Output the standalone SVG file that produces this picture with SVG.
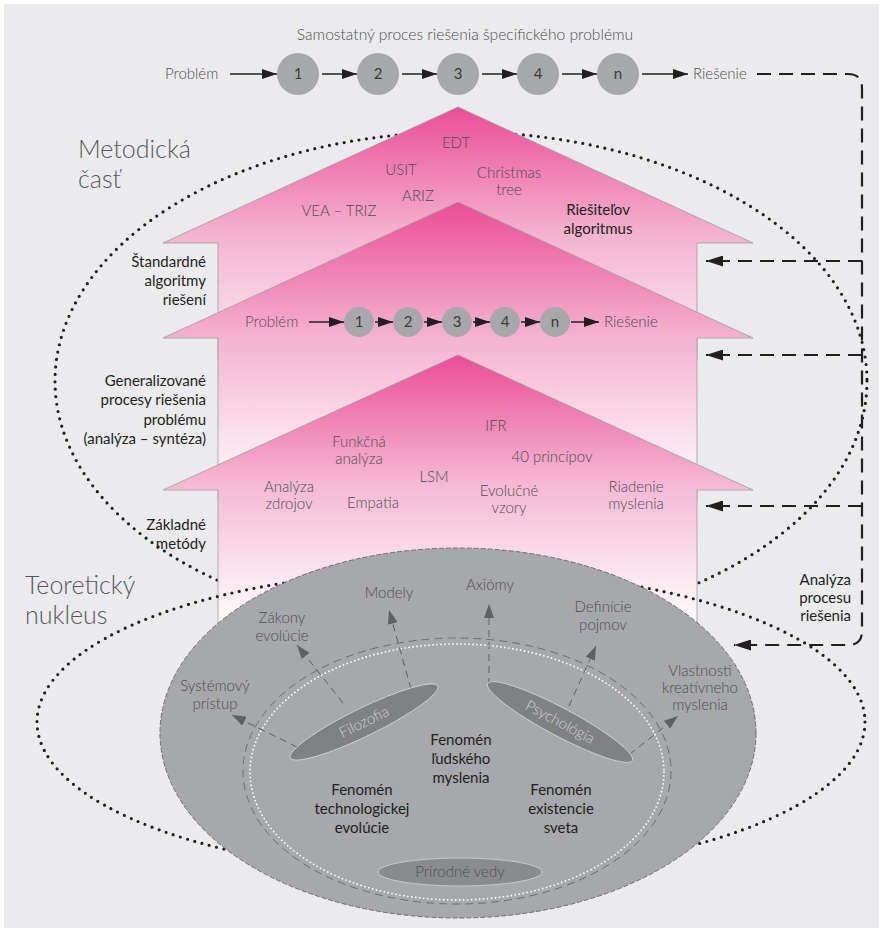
<svg xmlns="http://www.w3.org/2000/svg" width="883" height="932" viewBox="0 0 883 932">
  <defs>
    <style>
      .lbl { font-family: Lato, "Open Sans", "Liberation Sans", sans-serif; font-size: 15px; font-weight: 300; fill: #4d4e50; text-anchor: middle; }
      .blk { font-family: Lato, "Open Sans", "Liberation Sans", sans-serif; font-size: 15px; fill: #231f20; }
      .big { font-family: Lato, "Open Sans", "Liberation Sans", sans-serif; font-size: 25px; font-weight: 300; fill: #58595b; }
      .num { font-family: Lato, "Open Sans", "Liberation Sans", sans-serif; font-size: 15px; fill: #3a3a3c; text-anchor: middle; }
      .step { fill: #a7a8ab; }
      .flow { stroke: #231f20; stroke-width: 1.5; fill: none; marker-end: url(#ah); }
      .back { stroke: #231f20; stroke-width: 2.2; fill: none; stroke-dasharray: 14 8; }
      .dots { fill: none; stroke: #231f20; stroke-width: 3.2; stroke-linecap: round; stroke-dasharray: 0 7.5; }
      .house { stroke: #9d9d9f; stroke-width: 0.8; }
      .ray { stroke: #5f6063; stroke-width: 1; fill: none; stroke-dasharray: 7 5; marker-end: url(#gh); }
      .disc { fill: #808184; stroke: #d4d5d7; stroke-width: 0.8; }
      .disctxt { font-family: Lato, "Open Sans", "Liberation Sans", sans-serif; font-size: 15px; font-weight: 300; fill: #cfd0d2; text-anchor: middle; }
    </style>
    <marker id="ah" viewBox="0 0 15 10" refX="15" refY="5" markerWidth="15" markerHeight="10" markerUnits="userSpaceOnUse" orient="auto">
      <path d="M0,0 L15,5 L0,10 z" fill="#231f20"/>
    </marker>
    <marker id="bh" viewBox="0 0 17 11" refX="17" refY="5.5" markerWidth="17" markerHeight="11" markerUnits="userSpaceOnUse" orient="auto">
      <path d="M0,0 L17,5.5 L0,11 z" fill="#231f20"/>
    </marker>
    <marker id="gh" viewBox="0 0 14 10" refX="14" refY="5" markerWidth="14" markerHeight="10" markerUnits="userSpaceOnUse" orient="auto">
      <path d="M0,0 L14,5 L0,10 z" fill="#5f6063"/>
    </marker>
    <linearGradient id="gA" gradientUnits="userSpaceOnUse" x1="0" y1="107" x2="0" y2="360">
      <stop offset="0" stop-color="#eb4d97"/>
      <stop offset="0.5" stop-color="#f4b2cf"/>
      <stop offset="1" stop-color="#fcecf3"/>
    </linearGradient>
    <linearGradient id="gB" gradientUnits="userSpaceOnUse" x1="0" y1="202" x2="0" y2="470">
      <stop offset="0" stop-color="#eb4d97"/>
      <stop offset="0.5" stop-color="#f4b2cf"/>
      <stop offset="1" stop-color="#fdf1f6"/>
    </linearGradient>
    <linearGradient id="gC" gradientUnits="userSpaceOnUse" x1="0" y1="355" x2="0" y2="610">
      <stop offset="0" stop-color="#eb4d97"/>
      <stop offset="0.5" stop-color="#f5b8d3"/>
      <stop offset="1" stop-color="#fef6f9"/>
    </linearGradient>
  </defs>

  <!-- page -->
  <rect x="0" y="0" width="883" height="932" fill="#ffffff"/>
  <rect x="4" y="4" width="875" height="924" fill="#ebebed"/>

  <!-- outer dotted boundary of the methodical part (drawn under the arrows) -->
  <ellipse cx="461" cy="381" rx="406" ry="249" class="dots"/>

  <!-- three stacked arrows -->
  <g id="arrow-algoritmus">
    <path class="house" fill="url(#gA)" d="M458,107 L753,243 L697,243 L697,360 L218,360 L218,243 L163,243 Z"/>
  </g>
  <g id="arrow-procesy">
    <path class="house" fill="url(#gB)" d="M458,202 L753,338 L697,338 L697,500 L218,500 L218,338 L163,338 Z"/>
  </g>
  <g id="arrow-metody">
    <path class="house" fill="url(#gC)" d="M458,355 L753,490 L697,490 L697,650 L218,650 L218,490 L163,490 Z"/>
  </g>

  <!-- dotted boundary of the theoretical nucleus -->
  <ellipse cx="451" cy="722" rx="414" ry="152" class="dots"/>

  <!-- nucleus -->
  <g id="nucleus">
    <ellipse cx="458" cy="733" rx="298" ry="185" fill="#a7a8ab" stroke="#6d6e71" stroke-width="1" stroke-dasharray="5 2"/>
    <ellipse cx="457" cy="771" rx="214" ry="133" fill="none" stroke="#6d6e71" stroke-width="1" stroke-dasharray="8 5"/>
    <ellipse cx="457" cy="772" rx="207" ry="128" fill="none" stroke="#ffffff" stroke-width="1.8" stroke-linecap="round" stroke-dasharray="0 4"/>
  </g>

  <!-- connectors -->
  <g id="connectors">
    <!-- specific solving process -->
    <line class="flow" x1="230" y1="74" x2="277" y2="74"/>
    <line class="flow" x1="322" y1="74" x2="357" y2="74"/>
    <line class="flow" x1="402" y1="74" x2="437" y2="74"/>
    <line class="flow" x1="482" y1="74" x2="517" y2="74"/>
    <line class="flow" x1="562" y1="74" x2="597" y2="74"/>
    <line class="flow" x1="642" y1="74" x2="688" y2="74"/>
    <!-- generalized process -->
    <line class="flow" x1="309" y1="322" x2="344" y2="322"/>
    <line class="flow" x1="375" y1="322" x2="393" y2="322"/>
    <line class="flow" x1="424" y1="322" x2="442" y2="322"/>
    <line class="flow" x1="473" y1="322" x2="490" y2="322"/>
    <line class="flow" x1="521" y1="322" x2="540" y2="322"/>
    <line class="flow" x1="571" y1="322" x2="599" y2="322"/>
    <!-- analysis feedback loop -->
    <path class="back" d="M757,74 H848 Q862,74 862,88 V631 Q862,645 848,645 H734" marker-end="url(#bh)"/>
    <path class="back" d="M862,261 H706" marker-end="url(#bh)"/>
    <path class="back" d="M862,355 H706" marker-end="url(#bh)"/>
    <path class="back" d="M862,506 H706" marker-end="url(#bh)"/>
    <!-- from the disciplines outwards -->
    <line class="ray" x1="297" y1="747" x2="232" y2="715"/>
    <line class="ray" x1="343" y1="703" x2="297" y2="645"/>
    <line class="ray" x1="411" y1="689" x2="389" y2="610"/>
    <line class="ray" x1="489" y1="685" x2="489" y2="604"/>
    <line class="ray" x1="564" y1="717" x2="596" y2="646"/>
    <line class="ray" x1="620" y1="762" x2="678" y2="716"/>
  </g>

  <!-- step circles, top row -->
  <g id="steps-top">
    <circle class="step" cx="298" cy="74" r="21"/><text class="num" x="298" y="79">1</text>
    <circle class="step" cx="378" cy="74" r="21"/><text class="num" x="378" y="79">2</text>
    <circle class="step" cx="458" cy="74" r="21"/><text class="num" x="458" y="79">3</text>
    <circle class="step" cx="538" cy="74" r="21"/><text class="num" x="538" y="79">4</text>
    <circle class="step" cx="618" cy="74" r="21"/><text class="num" x="618" y="79">n</text>
  </g>
  <g id="titles-top">
    <text class="lbl" x="465" y="40" style="font-size:15.6px">Samostatný proces riešenia špecifického problému</text>
    <text class="lbl" x="165" y="79" style="text-anchor:start">Problém</text>
    <text class="lbl" x="693" y="79" style="text-anchor:start">Riešenie</text>
  </g>

  <!-- step circles, generalized row -->
  <g id="steps-mid">
    <circle class="step" cx="359" cy="322" r="15"/><text class="num" x="359" y="327">1</text>
    <circle class="step" cx="408" cy="322" r="15"/><text class="num" x="408" y="327">2</text>
    <circle class="step" cx="457" cy="322" r="15"/><text class="num" x="457" y="327">3</text>
    <circle class="step" cx="505" cy="322" r="15"/><text class="num" x="505" y="327">4</text>
    <circle class="step" cx="555" cy="322" r="15"/><text class="num" x="555" y="327">n</text>
    <text class="lbl" x="245" y="327" style="text-anchor:start">Problém</text>
    <text class="lbl" x="604" y="327" style="text-anchor:start">Riešenie</text>
  </g>

  <!-- labels in the top arrow -->
  <g id="algoritmus-labels">
    <text class="lbl" x="456" y="148">EDT</text>
    <text class="lbl" x="401" y="175">USIT</text>
    <text class="lbl" x="418" y="201">ARIZ</text>
    <text class="lbl" x="339" y="216">VEA – TRIZ</text>
    <text class="lbl" x="509" y="178">Christmas</text>
    <text class="lbl" x="509" y="195">tree</text>
    <text class="blk" x="598" y="215" text-anchor="middle">Riešiteľov</text>
    <text class="blk" x="598" y="234" text-anchor="middle">algoritmus</text>
  </g>

  <!-- labels in the bottom arrow -->
  <g id="metody-labels">
    <text class="lbl" x="496" y="431">IFR</text>
    <text class="lbl" x="359" y="447">Funkčná</text>
    <text class="lbl" x="359" y="464">analýza</text>
    <text class="lbl" x="552" y="462">40 princípov</text>
    <text class="lbl" x="434" y="482">LSM</text>
    <text class="lbl" x="289" y="492">Analýza</text>
    <text class="lbl" x="289" y="509">zdrojov</text>
    <text class="lbl" x="373" y="508">Empatia</text>
    <text class="lbl" x="509" y="496">Evolučné</text>
    <text class="lbl" x="509" y="513">vzory</text>
    <text class="lbl" x="636" y="492">Riadenie</text>
    <text class="lbl" x="636" y="509">myslenia</text>
  </g>

  <!-- level names -->
  <g id="level-names">
    <text class="blk" x="206" y="267" text-anchor="end">Štandardné</text>
    <text class="blk" x="206" y="286" text-anchor="end">algoritmy</text>
    <text class="blk" x="206" y="305" text-anchor="end">riešení</text>
    <text class="blk" x="206" y="386" text-anchor="end">Generalizované</text>
    <text class="blk" x="206" y="405" text-anchor="end">procesy riešenia</text>
    <text class="blk" x="206" y="425" text-anchor="end">problému</text>
    <text class="blk" x="206" y="444" text-anchor="end">(analýza – syntéza)</text>
    <text class="blk" x="206" y="530" text-anchor="end">Základné</text>
    <text class="blk" x="206" y="549" text-anchor="end">metódy</text>
    <text class="big" x="78" y="158">Metodická</text>
    <text class="big" x="78" y="188">časť</text>
    <text class="big" x="25" y="594">Teoretický</text>
    <text class="big" x="25" y="624">nukleus</text>
    <text class="blk" x="851" y="585" text-anchor="end">Analýza</text>
    <text class="blk" x="851" y="603" text-anchor="end">procesu</text>
    <text class="blk" x="851" y="621" text-anchor="end">riešenia</text>
  </g>

  <!-- disciplines -->
  <g id="filozofia">
    <ellipse class="disc" cx="364" cy="722" rx="82" ry="14" transform="rotate(-26 364 722)"/>
    <text class="disctxt" x="364" y="727" transform="rotate(-26 364 722)">Filozofia</text>
  </g>
  <g id="psychologia">
    <ellipse class="disc" cx="560" cy="722" rx="82" ry="14" transform="rotate(28 560 722)"/>
    <text class="disctxt" x="560" y="727" transform="rotate(28 560 722)">Psychológia</text>
  </g>
  <g id="prirodne-vedy">
    <ellipse class="disc" cx="460" cy="872" rx="82" ry="14" style="fill:#8a8b8e"/>
    <text class="disctxt" x="460" y="877" style="fill:#4f5052">Prírodné vedy</text>
  </g>

  <!-- outputs of the nucleus -->
  <g id="nucleus-labels">
    <text class="lbl" x="215" y="691">Systémový</text>
    <text class="lbl" x="215" y="709">prístup</text>
    <text class="lbl" x="282" y="623">Zákony</text>
    <text class="lbl" x="282" y="641">evolúcie</text>
    <text class="lbl" x="389" y="598">Modely</text>
    <text class="lbl" x="490" y="590">Axiómy</text>
    <text class="lbl" x="603" y="612">Definície</text>
    <text class="lbl" x="603" y="630">pojmov</text>
    <text class="lbl" x="700" y="676">Vlastnosti</text>
    <text class="lbl" x="700" y="693">kreatívneho</text>
    <text class="lbl" x="700" y="710">myslenia</text>
    <text class="blk" x="461" y="745" text-anchor="middle">Fenomén</text>
    <text class="blk" x="461" y="764" text-anchor="middle">ľudského</text>
    <text class="blk" x="461" y="783" text-anchor="middle">myslenia</text>
    <text class="blk" x="362" y="795" text-anchor="middle">Fenomén</text>
    <text class="blk" x="362" y="814" text-anchor="middle">technologickej</text>
    <text class="blk" x="362" y="833" text-anchor="middle">evolúcie</text>
    <text class="blk" x="561" y="795" text-anchor="middle">Fenomén</text>
    <text class="blk" x="561" y="814" text-anchor="middle">existencie</text>
    <text class="blk" x="561" y="833" text-anchor="middle">sveta</text>
  </g>
</svg>
